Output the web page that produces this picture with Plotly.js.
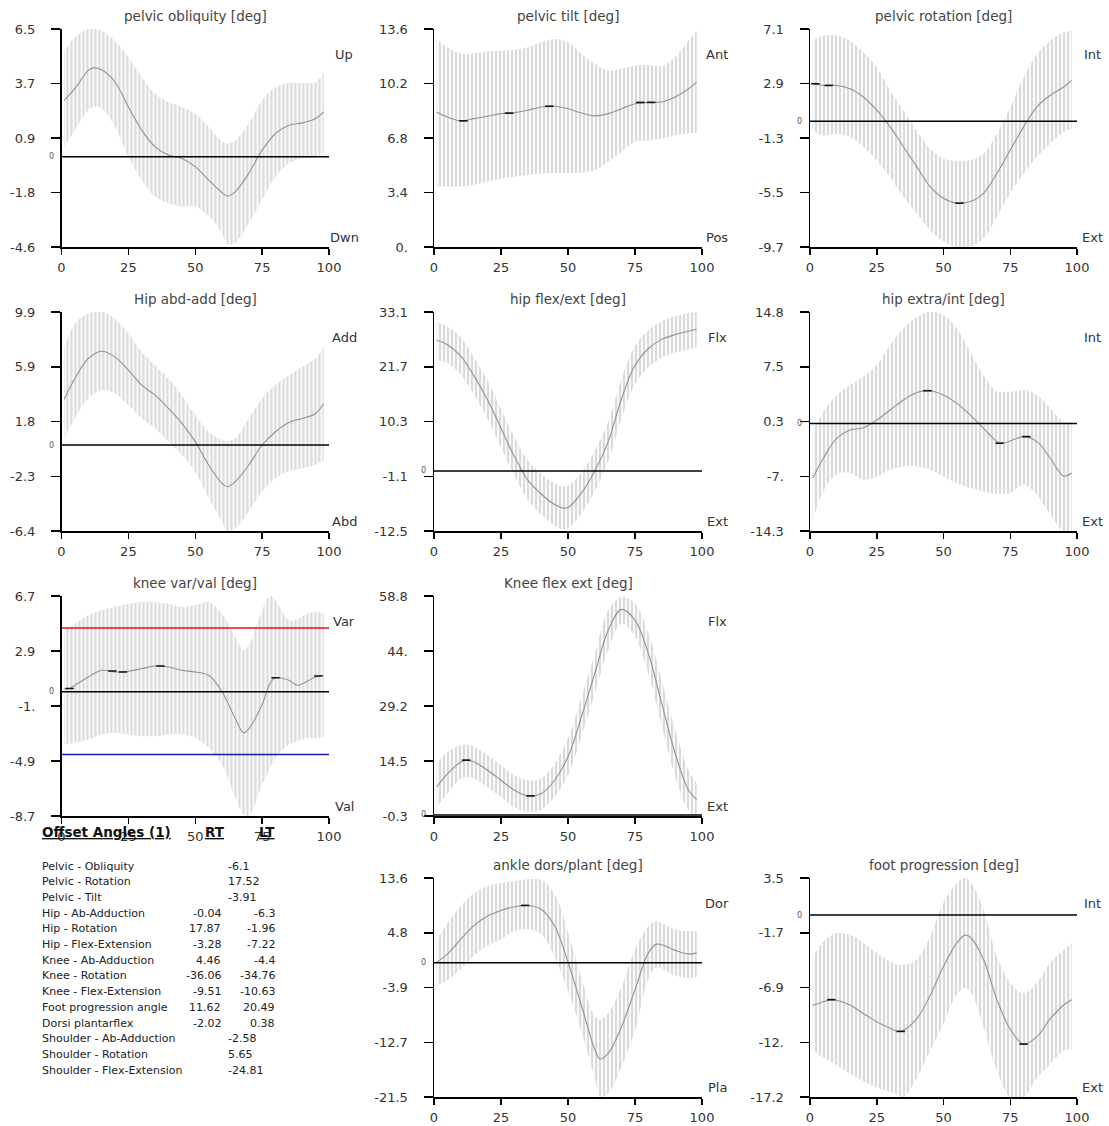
<!DOCTYPE html>
<html>
<head>
<meta charset="utf-8">
<script src="https://cdn.plot.ly/plotly-3.0.1.min.js"></script>
<style>
html,body{margin:0;padding:0;background:#fff;}
#chart{width:1109px;height:1126px;}
</style>
</head>
<body>
<div id="chart"></div>
<script>
// ---------------- DATA ----------------
const X_TICKS = [0, 25, 50, 75, 100];

// pelvic obliquity
const pelvicObliquityX = [1,5,10,12,15,20,25,30,35,40,45,50,55,60,62,65,70,75,80,85,90,95,98];
const pelvicObliquityMean = [2.87,3.46,4.39,4.52,4.42,3.80,2.53,1.35,0.50,0.08,-0.09,-0.51,-1.19,-1.83,-2.0,-1.78,-0.85,0.33,1.18,1.6,1.72,1.94,2.28];
const pelvicObliquityUpper = [5.32,6.08,6.5,6.5,6.42,5.9,5.06,4.05,3.2,2.78,2.53,2.19,1.52,0.76,0.67,0.84,1.69,2.87,3.54,3.75,3.75,3.80,4.30];
const pelvicObliquityLower = [0.5,1.35,2.36,2.53,2.45,1.52,0.0,-1.19,-2.03,-2.37,-2.54,-2.54,-3.04,-3.89,-4.48,-4.4,-3.38,-2.2,-1.02,-0.34,-0.09,0.0,0.17];

// pelvic tilt
const pelvicTiltX = [1,5,10,15,20,25,30,35,40,45,50,55,60,65,70,75,80,85,90,95,98];
const pelvicTiltMean = [8.42,8.11,7.87,8.01,8.16,8.32,8.38,8.53,8.73,8.78,8.63,8.36,8.18,8.32,8.63,8.94,9.02,9.05,9.36,9.87,10.29];
const pelvicTiltUpper = [12.98,12.46,12.05,12.09,12.21,12.25,12.3,12.46,12.77,12.98,12.77,12.05,11.43,11.01,11.12,11.32,11.36,11.28,11.84,12.88,13.5];
const pelvicTiltLower = [3.77,3.77,3.77,3.87,4.08,4.28,4.39,4.49,4.59,4.59,4.59,4.63,4.80,5.32,5.94,6.56,6.66,6.77,6.97,7.08,7.08];

// pelvic rotation
const pelvicRotationX = [1,5,10,15,20,25,30,35,40,45,50,55,60,65,70,75,80,85,90,95,98];
const pelvicRotationMean = [2.88,2.75,2.75,2.50,1.86,0.84,-0.44,-1.97,-3.51,-5.04,-5.94,-6.32,-6.2,-5.56,-4.02,-2.23,-0.44,1.10,1.99,2.63,3.14];
const pelvicRotationUpper = [6.2,6.59,6.59,6.2,5.31,4.16,2.37,0.84,-0.72,-2.12,-2.89,-3.07,-3.02,-2.51,-0.97,1.07,3.37,5.16,6.2,6.84,6.97];
const pelvicRotationLower = [-0.72,-1.1,-0.97,-1.23,-1.99,-3.02,-4.3,-5.83,-7.11,-8.39,-9.28,-9.7,-9.66,-9.02,-7.36,-5.58,-4.04,-2.76,-1.74,-0.84,-0.59];

// hip abd-add
const hipAbdAddX = [1,5,10,15,20,25,30,35,40,45,50,55,60,62,65,70,75,80,85,90,95,98];
const hipAbdAddMean = [3.41,4.95,6.44,6.98,6.56,5.57,4.46,3.71,2.72,1.61,0.25,-1.49,-2.85,-3.1,-2.72,-1.49,0.0,0.99,1.68,1.98,2.35,3.09];
const hipAbdAddUpper = [7.18,9.03,9.78,9.95,9.4,8.29,6.93,5.94,4.95,3.71,2.23,0.99,0.37,0.3,0.5,1.98,3.47,4.46,5.2,5.82,6.43,7.3];
const hipAbdAddLower = [0.5,1.98,3.47,4.08,3.84,2.97,1.98,1.24,0.25,-0.74,-1.98,-3.96,-5.69,-6.4,-6.18,-4.94,-3.47,-2.48,-1.98,-1.73,-1.49,-1.11];

// hip flex/ext
const hipFlexExtX = [1,5,10,15,20,25,30,35,40,45,48,50,55,60,65,70,75,80,85,90,95,98];
const hipFlexExtMean = [27.2,26.3,23.9,19.7,14.8,8.9,3.0,-1.9,-4.8,-7.0,-7.7,-7.6,-4.6,0.0,6.1,15.1,22.0,25.5,27.4,28.4,29.1,29.5];
const hipFlexExtUpper = [31.0,30.1,27.8,23.6,18.8,12.9,7.0,2.2,-0.6,-2.6,-3.2,-3.1,-0.3,4.2,10.3,19.2,26.0,29.3,31.2,32.2,32.9,33.1];
const hipFlexExtLower = [23.0,22.5,20.0,15.8,10.8,4.9,-1.0,-6.0,-9.0,-11.4,-12.2,-12.0,-8.9,-4.2,1.9,11.0,18.0,21.6,23.6,24.6,25.3,25.8];

// hip extra/int
const hipRotX = [1,5,10,15,20,25,30,35,40,45,50,55,60,65,70,72,75,80,85,90,95,98];
const hipRotMean = [-7.27,-4.63,-1.98,-0.88,-0.57,0.44,1.77,3.1,4.1,4.34,3.76,2.66,1.11,-0.66,-2.42,-2.64,-2.33,-1.76,-2.42,-4.63,-7.0,-6.6];
const hipRotUpper = [-1.1,1.55,3.76,5.09,6.2,7.74,10.4,12.6,14.14,14.8,14.36,12.6,9.5,6.41,4.2,4.2,4.2,4.42,3.76,2.0,0.23,0.23];
const hipRotLower = [-13.0,-9.0,-6.8,-6.6,-7.5,-7.05,-6.17,-5.73,-5.73,-6.17,-7.05,-7.94,-8.6,-9.04,-9.4,-9.4,-9.26,-8.16,-9.48,-12.1,-14.3,-14.3];

// knee var/val
const kneeVarValX = [1,3,5,10,15,20,25,30,35,40,45,50,55,60,65,68,70,75,78,80,85,88,90,95,98];
const kneeVarValMean = [0.19,0.22,0.45,1.03,1.5,1.38,1.43,1.62,1.8,1.73,1.5,1.38,1.15,0.0,-1.9,-2.87,-2.6,-0.9,0.6,0.98,0.8,0.45,0.56,1.03,1.15];
const kneeVarValUpper = [4.3,4.5,4.76,5.35,5.7,5.93,6.16,6.28,6.28,6.16,5.93,6.05,6.28,5.46,3.83,2.9,3.25,5.7,6.7,6.4,5.0,5.05,5.3,5.58,5.46];
const kneeVarValLower = [-3.69,-3.64,-3.58,-3.35,-3.0,-2.88,-3.0,-3.11,-3.11,-3.0,-3.0,-3.23,-3.93,-5.1,-7.43,-8.6,-8.7,-6.5,-5.33,-4.63,-3.69,-3.5,-3.35,-3.23,-3.23];

// knee flex ext
const kneeFlexX = [1,5,10,12,15,20,25,30,35,40,45,50,55,60,65,70,75,80,85,90,95,98];
const kneeFlexMean = [7.5,11.0,14.2,14.7,14.2,12.0,9.3,6.6,5.1,5.7,9.3,15.6,26.3,38.0,49.6,55.2,52.3,43.3,29.9,16.5,6.6,4.1];
const kneeFlexUpper = [13.8,16.9,18.7,18.9,18.3,16.0,13.3,10.6,9.3,9.8,13.8,20.5,31.7,43.3,55.0,58.5,56.7,48.7,36.2,22.8,12.0,8.5];
const kneeFlexLower = [2.1,5.7,9.8,10.2,9.8,7.5,4.8,2.1,0.8,1.4,4.8,10.6,20.9,32.6,44.2,51.4,47.8,38.0,23.7,10.3,1.2,-0.3];

// ankle dors/plant
const ankleX = [1,5,10,15,20,25,30,35,40,45,50,55,60,62,65,70,75,80,83,85,90,95,98];
const ankleMean = [0.1,1.4,3.8,6.0,7.5,8.4,9.0,9.2,8.6,5.9,0.1,-6.8,-13.9,-15.4,-14.5,-10.2,-4.3,1.6,3.0,2.9,2.0,1.4,1.6];
const ankleUpper = [3.5,6.4,9.1,11.2,12.3,12.8,13.1,13.4,13.3,11.0,5.0,-2.5,-8.6,-9.1,-8.1,-3.8,2.2,5.8,6.7,6.3,5.4,5.1,5.1];
const ankleLower = [-3.6,-2.8,-1.0,1.2,2.8,3.8,5.1,5.4,4.6,1.0,-4.5,-11.0,-18.5,-21.4,-20.9,-16.6,-10.8,-2.6,-0.8,-0.9,-2.0,-2.5,-2.3];

// foot progression
const footX = [1,5,8,10,15,20,25,30,33,35,40,45,50,55,58,60,65,70,75,80,85,90,95,98];
const footMean = [-8.54,-8.2,-8.0,-8.05,-8.5,-9.3,-10.1,-10.7,-11.0,-10.9,-9.8,-7.6,-4.85,-2.64,-1.9,-2.1,-4.2,-8.0,-10.8,-12.2,-11.5,-9.8,-8.5,-8.0];
const footUpper = [-3.9,-2.5,-1.9,-1.7,-1.86,-2.64,-3.6,-4.4,-4.7,-4.7,-4.2,-2.0,1.14,3.03,3.5,3.2,0.5,-3.9,-6.4,-7.4,-6.4,-4.5,-3.3,-2.64];
const footLower = [-12.8,-13.45,-13.9,-14.2,-15.0,-15.7,-16.3,-16.7,-17.0,-17.2,-15.4,-12.8,-10.3,-7.5,-6.9,-7.2,-10.6,-14.7,-17.2,-17.2,-15.4,-14.1,-12.8,-12.7];

// short black marks on the mean curves
const marksX = [[], [11,28,43,77,81], [2,7,56], [], [], [44,71,81], [3,19,23,37,80,96], [12,36], [34], [8,34,80]];
const marksY = [[], [7.87,8.35,8.78,9.02,9.02], [2.88,2.75,-6.32], [], [], [4.34,-2.64,-1.76], [0.22,1.45,1.38,1.8,0.98,1.1], [14.7,5.1], [9.2], [-8.0,-11.0,-12.2]];

const titles = ['pelvic obliquity [deg]','pelvic tilt [deg]','pelvic rotation [deg]',
  'Hip abd-add [deg]','hip flex/ext [deg]','hip extra/int [deg]',
  'knee var/val [deg]','Knee flex ext [deg]','ankle dors/plant [deg]','foot progression [deg]'];

const yTickLabels = [
  ['-4.6','-1.8','0.9','3.7','6.5'],
  ['0.','3.4','6.8','10.2','13.6'],
  ['-9.7','-5.5','-1.3','2.9','7.1'],
  ['-6.4','-2.3','1.8','5.9','9.9'],
  ['-12.5','-1.1','10.3','21.7','33.1'],
  ['-14.3','-7.','0.3','7.5','14.8'],
  ['-8.7','-4.9','-1.','2.9','6.7'],
  ['-0.3','14.5','29.2','44.','58.8'],
  ['-21.5','-12.7','-3.9','4.8','13.6'],
  ['-17.2','-12.','-6.9','-1.7','3.5']
];

const sideLabelsTop = ['Up','Ant','Int','Add','Flx','Int','Var','Flx','Dor','Int'];
const sideLabelsBottom = ['Dwn','Pos','Ext','Abd','Ext','Ext','Val','Ext','Pla','Ext'];

// offset angle table
const offsetTitle = 'Offset Angles (1)';
const offsetHeaders = ['RT','LT'];
const offsetLabels = ['Pelvic - Obliquity','Pelvic - Rotation','Pelvic - Tilt','Hip - Ab-Adduction','Hip - Rotation',
  'Hip - Flex-Extension','Knee - Ab-Adduction','Knee - Rotation','Knee - Flex-Extension','Foot progression angle',
  'Dorsi plantarflex','Shoulder - Ab-Adduction','Shoulder - Rotation','Shoulder - Flex-Extension'];
const offsetSingle = ['-6.1','17.52','-3.91','','','','','','','','','-2.58','5.65','-24.81'];
const offsetRT = ['','','','-0.04','17.87','-3.28','4.46','-36.06','-9.51','11.62','-2.02','','',''];
const offsetLT = ['','','','-6.3','-1.96','-7.22','-4.4','-34.76','-10.63','20.49','0.38','','',''];

// ---------------- BUILD ----------------
const panels = [
  {x: pelvicObliquityX, m: pelvicObliquityMean, u: pelvicObliquityUpper, l: pelvicObliquityLower},
  {x: pelvicTiltX, m: pelvicTiltMean, u: pelvicTiltUpper, l: pelvicTiltLower},
  {x: pelvicRotationX, m: pelvicRotationMean, u: pelvicRotationUpper, l: pelvicRotationLower},
  {x: hipAbdAddX, m: hipAbdAddMean, u: hipAbdAddUpper, l: hipAbdAddLower},
  {x: hipFlexExtX, m: hipFlexExtMean, u: hipFlexExtUpper, l: hipFlexExtLower},
  {x: hipRotX, m: hipRotMean, u: hipRotUpper, l: hipRotLower},
  {x: kneeVarValX, m: kneeVarValMean, u: kneeVarValUpper, l: kneeVarValLower},
  {x: kneeFlexX, m: kneeFlexMean, u: kneeFlexUpper, l: kneeFlexLower},
  {x: ankleX, m: ankleMean, u: ankleUpper, l: ankleLower},
  {x: footX, m: footMean, u: footUpper, l: footLower}
];
const panelCol = [0,1,2,0,1,2,0,1,1,2];
const panelRow = [0,0,0,1,1,1,2,2,3,3];

const W = 1109, H = 1126;
const FONT = 'DejaVu Sans, Liberation Sans, Arial, sans-serif';
const colL = [61.5, 434, 810], colR = [329, 702, 1077];
const rowT = [29, 312, 596, 878], rowB = [247, 531, 816, 1097];

const traces = [];
const layout = {
  width: W, height: H,
  margin: {l: 0, r: 0, t: 0, b: 0},
  paper_bgcolor: '#ffffff', plot_bgcolor: 'rgba(0,0,0,0)',
  showlegend: false,
  annotations: [], shapes: []
};

panels.forEach((p, i) => {
  const n = i + 1;
  const sfx = n === 1 ? '' : String(n);
  const xa = 'x' + sfx, ya = 'y' + sfx;
  const ticks = yTickLabels[i];
  const lo = parseFloat(ticks[0]), hi = parseFloat(ticks[ticks.length - 1]);
  const tv = ticks.map((_, k) => lo + k * (hi - lo) / (ticks.length - 1));
  const c = panelCol[i], r = panelRow[i];

  layout['xaxis' + sfx] = {
    domain: [colL[c] / W, colR[c] / W], anchor: ya,
    range: [0, 100], tickvals: X_TICKS, ticktext: X_TICKS.map(String),
    showline: true, linecolor: '#000', linewidth: 1.5,
    ticks: 'outside', ticklen: 6, tickwidth: 1.5, tickcolor: '#000',
    ticklabelstandoff: 2,
    showgrid: false, zeroline: false, fixedrange: true,
    tickfont: {family: FONT, size: 13, color: '#333'}
  };
  layout['yaxis' + sfx] = {
    domain: [1 - rowB[r] / H, 1 - rowT[r] / H], anchor: xa,
    range: [lo, hi], tickvals: tv, ticktext: ticks,
    showline: true, linecolor: '#000', linewidth: 1.5,
    ticks: 'outside', ticklen: 9, tickwidth: 1.5, tickcolor: '#000',
    ticklabelstandoff: 13,
    showgrid: false, zeroline: false, fixedrange: true,
    tickfont: {family: FONT, size: 13, color: '#333'}
  };

  // band
  traces.push({x: p.x, y: p.l, xaxis: xa, yaxis: ya, type: 'scatter', mode: 'lines',
    line: {width: 0, shape: 'spline', color: 'rgba(0,0,0,0)'}, hoverinfo: 'skip'});
  traces.push({x: p.x, y: p.u, xaxis: xa, yaxis: ya, type: 'scatter', mode: 'lines',
    line: {width: 0, shape: 'spline', color: 'rgba(0,0,0,0)'}, fill: 'tonexty',
    fillcolor: '#f8f8f8',
    fillpattern: {shape: '|', size: 4, solidity: 0.4, fgcolor: '#d3d3d3', bgcolor: '#f9f9f9'},
    hoverinfo: 'skip'});
  // mean
  traces.push({x: p.x, y: p.m, xaxis: xa, yaxis: ya, type: 'scatter', mode: 'lines',
    line: {width: 1.1, shape: 'spline', color: '#929292'}, hoverinfo: 'skip'});
  // marks
  if (marksX[i].length) {
    traces.push({x: marksX[i], y: marksY[i], xaxis: xa, yaxis: ya, type: 'scatter', mode: 'markers',
      marker: {symbol: 'line-ew', size: 6, line: {width: 1.6, color: '#111'}}, hoverinfo: 'skip'});
  }

  // zero line + small "0"
  if (lo < 0 && hi > 0) {
    layout.shapes.push({type: 'line', xref: xa, yref: ya, x0: 0, x1: 100, y0: 0, y1: 0,
      line: {color: '#000', width: 1.5}, layer: 'above'});
    layout.annotations.push({xref: xa, yref: ya, x: 0, y: 0, text: '0', showarrow: false,
      xanchor: 'right', yanchor: 'middle', xshift: -6,
      font: {family: FONT, size: 8, color: '#555'}});
  }

  // title
  layout.annotations.push({xref: xa + ' domain', yref: ya + ' domain', x: 0.5, y: 1,
    text: titles[i], showarrow: false, xanchor: 'center', yanchor: 'middle', yshift: 13,
    font: {family: FONT, size: 13.5, color: '#444'}});
  // side labels
  layout.annotations.push({xref: xa + ' domain', yref: ya + ' domain', x: 1, y: 0.885,
    text: sideLabelsTop[i], showarrow: false, xanchor: 'center', yanchor: 'middle', xshift: 15,
    font: {family: FONT, size: 13, color: '#333'}});
  layout.annotations.push({xref: xa + ' domain', yref: ya + ' domain', x: 1, y: 0,
    text: sideLabelsBottom[i], showarrow: false, xanchor: 'center', yanchor: 'bottom', xshift: 15, yshift: 0,
    font: {family: FONT, size: 13, color: '#333'}});
});

// knee var/val reference lines from the knee ab-adduction offsets
const kneeIdx = offsetLabels.indexOf('Knee - Ab-Adduction');
layout.shapes.push({type: 'line', xref: 'x7', yref: 'y7', x0: 0, x1: 100,
  y0: parseFloat(offsetRT[kneeIdx]), y1: parseFloat(offsetRT[kneeIdx]),
  line: {color: '#e0141c', width: 1.5}, layer: 'above'});
layout.shapes.push({type: 'line', xref: 'x7', yref: 'y7', x0: 0, x1: 100,
  y0: parseFloat(offsetLT[kneeIdx]), y1: parseFloat(offsetLT[kneeIdx]),
  line: {color: '#1c1ca8', width: 1.5}, layer: 'above'});

// offset table (paper coordinates)
const px = v => v / W, py = v => 1 - v / H;
const headY = 832;
layout.annotations.push({xref: 'paper', yref: 'paper', x: px(40), y: py(headY), text: '<b><u>' + offsetTitle + '</u></b>',
  showarrow: false, xanchor: 'left', yanchor: 'middle', font: {family: FONT, size: 13.5, color: '#111'}});
layout.annotations.push({xref: 'paper', yref: 'paper', x: px(203), y: py(headY), text: '<b><u>' + offsetHeaders[0] + '</u></b>',
  showarrow: false, xanchor: 'left', yanchor: 'middle', font: {family: FONT, size: 13.5, color: '#111'}});
layout.annotations.push({xref: 'paper', yref: 'paper', x: px(257), y: py(headY), text: '<b><u>' + offsetHeaders[1] + '</u></b>',
  showarrow: false, xanchor: 'left', yanchor: 'middle', font: {family: FONT, size: 13.5, color: '#111'}});

const tf = {family: FONT, size: 11, color: '#222'};
offsetLabels.forEach((lab, k) => {
  const yy = py(866 + k * 15.7);
  layout.annotations.push({xref: 'paper', yref: 'paper', x: px(40), y: yy, text: lab, showarrow: false,
    xanchor: 'left', yanchor: 'middle', font: tf});
  if (offsetSingle[k]) {
    layout.annotations.push({xref: 'paper', yref: 'paper', x: px(226), y: yy, text: offsetSingle[k], showarrow: false,
      xanchor: 'left', yanchor: 'middle', font: tf});
  }
  if (offsetRT[k]) {
    layout.annotations.push({xref: 'paper', yref: 'paper', x: px(223), y: yy, text: offsetRT[k], showarrow: false,
      xanchor: 'right', yanchor: 'middle', font: tf});
  }
  if (offsetLT[k]) {
    layout.annotations.push({xref: 'paper', yref: 'paper', x: px(277), y: yy, text: offsetLT[k], showarrow: false,
      xanchor: 'right', yanchor: 'middle', font: tf});
  }
});

Plotly.newPlot('chart', traces, layout, {displayModeBar: false, staticPlot: true});
</script>
</body>
</html>
